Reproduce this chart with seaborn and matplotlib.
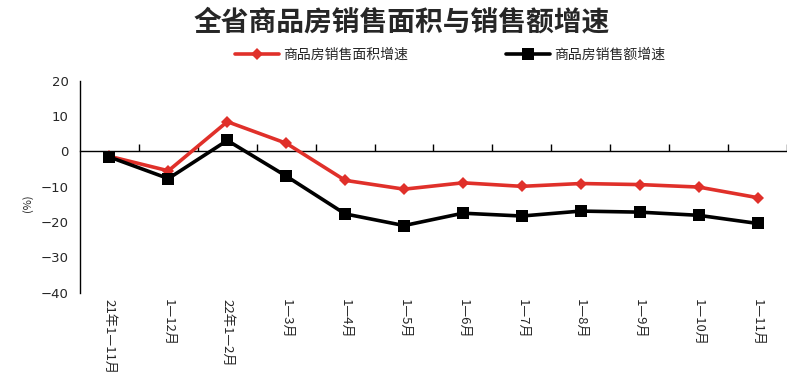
import matplotlib
matplotlib.use("Agg")
import matplotlib.pyplot as plt
import seaborn as sns
import pandas as pd
import numpy as np
from matplotlib.lines import Line2D

categories = ["21年1—11月", "1—12月", "22年1—2月", "1—3月", "1—4月", "1—5月",
              "1—6月", "1—7月", "1—8月", "1—9月", "1—10月", "1—11月"]
area_growth = [-1.4, -5.5, 8.4, 2.3, -8.2, -10.7, -8.9, -9.9, -9.1, -9.4, -10.1, -13.1]
sales_growth = [-1.6, -7.7, 3.1, -7.0, -17.7, -21.0, -17.5, -18.3, -16.9, -17.2, -18.1, -20.4]
series_names = ["商品房销售面积增速", "商品房销售额增速"]
title = "全省商品房销售面积与销售额增速"
y_ticks = [20, 10, 0, -10, -20, -30, -40]

sns.set_theme(style="white")
plt.rcParams['font.family'] = ['Noto Sans CJK SC', 'DejaVu Sans']
plt.rcParams['axes.unicode_minus'] = True

df = pd.DataFrame({
    "x": list(range(len(categories))) * 2,
    "value": area_growth + sales_growth,
    "series": [series_names[0]] * len(categories) + [series_names[1]] * len(categories),
})

fig = plt.figure(figsize=(7.87, 3.91), dpi=100)
ax = fig.add_axes([80 / 787, 1 - 292.7 / 391, 1 - 80 / 787, (292.7 - 80.7) / 391])

palette = {series_names[0]: "#e0302a", series_names[1]: "#000000"}
markers = {series_names[0]: "D", series_names[1]: "s"}
sns.lineplot(data=df, x="x", y="value", hue="series", style="series",
             palette=palette, markers=markers, dashes=False, linewidth=2.6,
             markersize=7.5, markeredgewidth=0, ax=ax, legend=False, sort=False)
for line in ax.lines:
    if line.get_marker() == "D":
        line.set_markersize(6.5)
        line.set_zorder(3)
    elif line.get_marker() == "s":
        line.set_markersize(8)
        line.set_zorder(4)

ax.set_ylim(-40, 20)
ax.set_yticks(y_ticks)
ax.set_yticklabels([str(v).replace("-", "\u2212") for v in y_ticks], fontsize=9.5, family="DejaVu Sans")
ax.set_xlim(-0.5, -0.5 + (787 - 79.8) / 59.5)

ax.spines["top"].set_visible(False)
ax.spines["right"].set_visible(False)
ax.spines["bottom"].set_position(("data", 0))
for s in ("bottom", "left"):
    ax.spines[s].set_linewidth(1.0)
    ax.spines[s].set_color("black")

ax.tick_params(axis="y", which="major", direction="out", length=5, width=1, color="black", pad=3)
ax.set_xticks(range(len(categories)))
ax.set_xticklabels(categories, rotation=270, fontsize=9.5, va="top", ha="center")
ax.tick_params(axis="x", which="major", length=0, pad=106)
ax.set_xticks(np.arange(0.5, len(categories), 1.0), minor=True)
ax.tick_params(axis="x", which="minor", direction="in", length=5, width=1, color="black", bottom=True)

ax.set_xlabel("")
ax.set_ylabel("(%)", fontsize=8)
ax.yaxis.set_label_coords(-0.066, 0.42)

fig.suptitle(title, fontsize=20, fontweight="bold", x=0.51, y=0.978)

handles = [
    Line2D([], [], color="#e0302a", marker="D", markersize=6.5, linewidth=2.6, markeredgewidth=0),
    Line2D([], [], color="#000000", marker="s", markersize=8, linewidth=2.6, markeredgewidth=0),
]
fig.legend(handles, series_names, loc="center", bbox_to_anchor=(0.572, 0.86), ncol=2,
           frameon=False, fontsize=10, columnspacing=7.0, handlelength=3.2, handletextpad=0.3)

fig.savefig("out.png", dpi=100, facecolor="white")
